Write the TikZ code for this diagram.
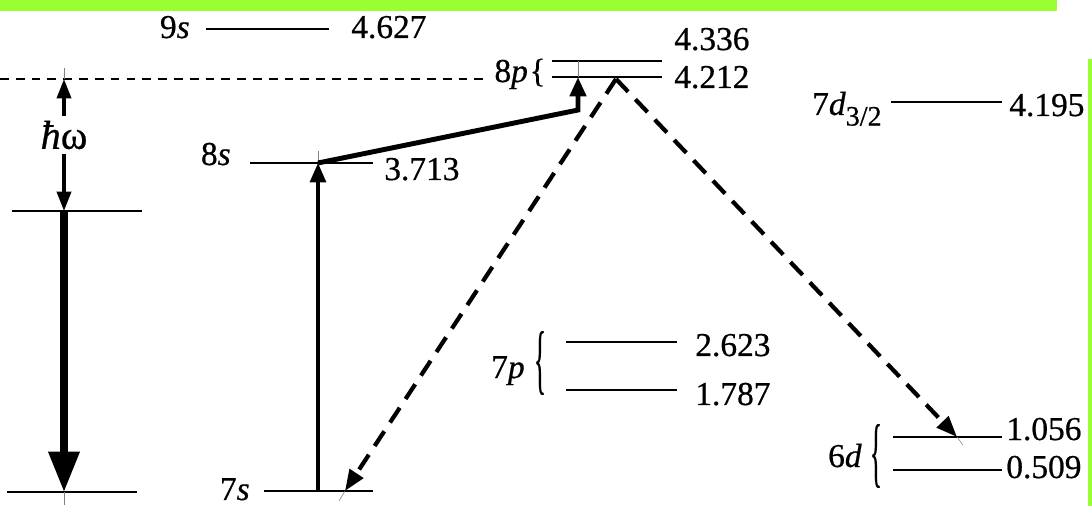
\documentclass[tikz,border=0pt]{standalone}
\usepackage{fontspec}
\usepackage{graphicx}
\setmainfont{Liberation Serif}
\newfontfamily\labfont{Liberation Serif}[FakeBold=0.6]
\usetikzlibrary{arrows.meta}
\definecolor{lime}{RGB}{153,255,51}
\begin{document}
\begin{tikzpicture}[x=0.02cm,y=-0.02cm,
  lvl/.style={line width=1.3pt},
  thinlvl/.style={line width=0.9pt},
  lab/.style={inner sep=0pt,font=\labfont\fontsize{19}{22}\selectfont},
  tick/.style={line width=0.3pt,gray},
  hwarrow/.style={line width=2pt,-{Triangle[length=11pt,width=8pt]}},
  bigarrow/.style={line width=4.2pt,-{Triangle[length=23pt,width=17pt]}},
  uparrow/.style={line width=2pt,-{Triangle[length=11pt,width=9pt]}},
  pumparrow/.style={line width=2.8pt,line join=miter,-{Triangle[length=11pt,width=9pt]}},
  decarrow/.style={line width=2.4pt,dash pattern=on 10pt off 6pt,-{Triangle[length=12pt,width=9pt]}},
  thresh/.style={line width=0.9pt,dash pattern=on 5pt off 4pt}]
\useasboundingbox (0,0) rectangle (1092,506);
% green frame pieces
\fill[lime] (0,0) rectangle (1057,11);
\fill[lime] (1088,59) rectangle (1092,506);

% level coordinates
\coordinate (s9a) at (206,29);  \coordinate (s9b) at (329,29);
\coordinate (p8ua) at (552,61); \coordinate (p8ub) at (662,61);
\coordinate (p8la) at (552,77); \coordinate (p8lb) at (662,77);
\coordinate (d7a) at (891,102); \coordinate (d7b) at (1002,102);
\coordinate (ha) at (12,211);   \coordinate (hb) at (142,211);
\coordinate (ga) at (7,492);    \coordinate (gb) at (137,492);
\coordinate (s8a) at (250,163); \coordinate (s8b) at (373,163);
\coordinate (s7a) at (264,491); \coordinate (s7b) at (373,491);
\coordinate (p7ua) at (566,342); \coordinate (p7ub) at (677,342);
\coordinate (p7la) at (566,390); \coordinate (p7lb) at (677,390);
\coordinate (d6ua) at (893,437); \coordinate (d6ub) at (1002,437);
\coordinate (d6la) at (893,470); \coordinate (d6lb) at (1002,470);
\coordinate (tha) at (0,79);     \coordinate (thb) at (488,79);

% levels
\draw[thinlvl] (s9a) -- (s9b);
\draw[lvl] (p8ua) -- (p8ub);
\draw[lvl] (p8la) -- (p8lb);
\draw[thinlvl] (d7a) -- (d7b);
\draw[lvl] (ha) -- (hb);
\draw[lvl] (ga) -- (gb);
\draw[lvl] (s8a) -- (s8b);
\draw[lvl] (s7a) -- (s7b);
\draw[thinlvl] (p7ua) -- (p7ub);
\draw[lvl] (p7la) -- (p7lb);
\draw[lvl] (d6ua) -- (d6ub);
\draw[lvl] (d6la) -- (d6lb);
\draw[thresh] (tha) -- (thb);

% labels
\node[lab,anchor=base east] (l9s) at (190,38) {9\textit{s}};
\node[lab,anchor=base west] (e9s) at (351,38) {4.627};
\node[lab,anchor=base east] (l8p) at (546,82) {8\textit{p}\kern1pt\{};
\node[lab,anchor=base west] (e8pu) at (674,50) {4.336};
\node[lab,anchor=base west] (e8pl) at (674,88) {4.212};
\node[lab,anchor=base east] (l7d) at (882,115) {7\textit{d}\raisebox{-6pt}{\fontsize{16}{16}\selectfont 3/2}};
\node[lab,anchor=base west] (e7d) at (1009,116) {4.195};
\node[lab,anchor=base east] (l8s) at (231,165) {8\textit{s}};
\node[lab,anchor=base west] (e8s) at (384,180) {3.713};
\node[lab,anchor=base east] (l7s) at (250,500) {7\textit{s}};
\node[lab,anchor=base east] (l7p) at (525,378) {7\textit{p}};
\node[lab] (b7p) at (540,363) {\scalebox{0.75}[2.3]{\{}};
\node[lab,anchor=base west] (e7pu) at (695,356) {2.623};
\node[lab,anchor=base west] (e7pl) at (695,405) {1.787};
\node[lab,anchor=base east] (l6d) at (862,467) {6\textit{d}};
\node[lab] (b6d) at (876,456) {\scalebox{0.75}[2.3]{\{}};
\node[lab,anchor=base west] (e6du) at (1006,440) {1.056};
\node[lab,anchor=base west] (e6dl) at (1006,478) {0.509};
\node[lab,font=\labfont\fontsize{23}{26}\selectfont] (hw) at (64,135) {\textit{ħ}ω};

% photon energy arrows
\coordinate (hwtop) at (64,79);
\coordinate (hwbot) at (64,211);
\draw[hwarrow] (hw.north) ++(0,-4) -- (hwtop);
\draw[hwarrow] (hw.south) ++(0,4) -- (hwbot);
\draw[tick] (hwtop) -- ++(0,-11);
\coordinate (gtip) at (64,492);
\draw[bigarrow] (hwbot) -- (gtip);
\draw[tick] (gtip) -- ++(0,13);

% excitation 7s -> 8s -> 8p
\coordinate (x7s) at (318,491);
\coordinate (x8s) at (318,163);
\coordinate (bend) at (578,110);
\coordinate (x8p) at (578,77);
\draw[uparrow] (x7s) -- (x8s);
\draw[tick] (x8s) -- ++(0,-12);
\draw[pumparrow] (x8s) -- (bend) -- (x8p);
\draw[tick] (x8p) -- ++(0,-16);

% decays from 8p
\coordinate (apex) at (616,79);
\coordinate (to7s) at (345,491);
\coordinate (to6d) at (957,437);
\draw[decarrow] (apex) -- (to7s);
\draw[decarrow] (apex) -- (to6d);
\draw[tick] (to7s) -- ++(-6,10);
\draw[tick] (to6d) -- ++(6,8);
\end{tikzpicture}
\end{document}
